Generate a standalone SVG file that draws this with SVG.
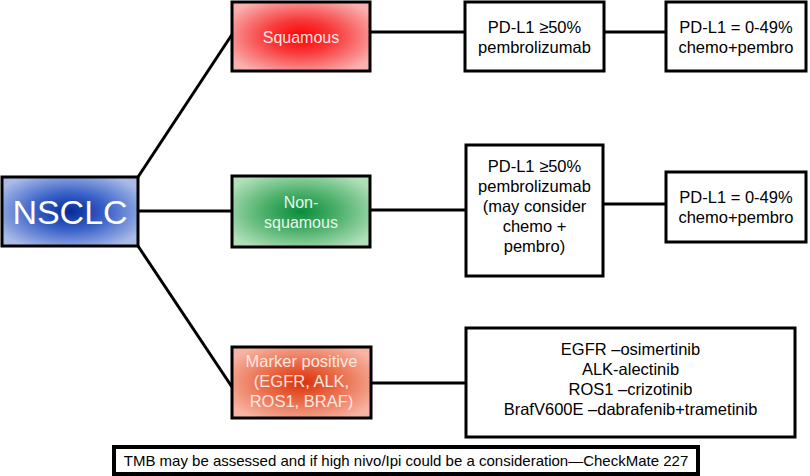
<svg xmlns="http://www.w3.org/2000/svg" width="810" height="476" viewBox="0 0 810 476">
<defs>
<radialGradient id="gBlue" cx="50%" cy="50%" r="60%">
<stop offset="0" stop-color="#062a96"/>
<stop offset="0.45" stop-color="#3a62c8"/>
<stop offset="1" stop-color="#aabbe8"/>
</radialGradient>
<radialGradient id="gRed" cx="50%" cy="50%" r="60%">
<stop offset="0" stop-color="#ff0000"/>
<stop offset="0.4" stop-color="#f83a3a"/>
<stop offset="1" stop-color="#f9b0b0"/>
</radialGradient>
<radialGradient id="gGreen" cx="50%" cy="50%" r="60%">
<stop offset="0" stop-color="#0a8c3c"/>
<stop offset="0.45" stop-color="#4cb06a"/>
<stop offset="1" stop-color="#b0dfb8"/>
</radialGradient>
<radialGradient id="gOrange" cx="50%" cy="50%" r="60%">
<stop offset="0" stop-color="#d83208"/>
<stop offset="0.45" stop-color="#ea6a48"/>
<stop offset="1" stop-color="#f7b4a2"/>
</radialGradient>
<style>
.box{stroke:#000;stroke-width:3}
.wbox{fill:#fff;stroke:#000;stroke-width:3}
.t{font-family:"Liberation Sans",Arial,sans-serif;font-size:16.5px;text-anchor:middle;fill:#000}
.w{fill:#fff}
.conn line{stroke:#000;stroke-width:3}
</style>
</defs>
<rect width="810" height="476" fill="#fff"/>
<g id="connectors" class="conn">
<line x1="138" y1="177" x2="233" y2="33"/>
<line x1="138" y1="211" x2="232" y2="211"/>
<line x1="138" y1="246" x2="232" y2="387"/>
<line x1="370" y1="32" x2="465" y2="32"/>
<line x1="604" y1="32" x2="666" y2="32"/>
<line x1="370" y1="210" x2="465" y2="210"/>
<line x1="603" y1="204" x2="666" y2="204"/>
<line x1="371" y1="383" x2="466" y2="383"/>
</g>
<g id="nsclc">
<rect class="box" x="2" y="177" width="136" height="69" fill="url(#gBlue)"/>
<text class="t w" x="70" y="224" style="font-size:34px">NSCLC</text>
</g>
<g id="squamous">
<rect class="box" x="232" y="2" width="138" height="69" fill="url(#gRed)"/>
<text class="t" x="301" y="43" fill="#fde6e6" style="fill:#fde6e6;font-size:16px">Squamous</text>
</g>
<g id="nonsquamous">
<rect class="box" x="232" y="176" width="138" height="71" fill="url(#gGreen)"/>
<text class="t" x="301" y="208" style="fill:#eaf6ec;font-size:16px">Non-</text>
<text class="t" x="301" y="228" style="fill:#eaf6ec;font-size:16px">squamous</text>
</g>
<g id="marker">
<rect class="box" x="232" y="347" width="139" height="71" fill="url(#gOrange)"/>
<text class="t" x="301.5" y="367" style="fill:#fde8e0">Marker positive</text>
<text class="t" x="301.5" y="387" style="fill:#fde8e0">(EGFR, ALK,</text>
<text class="t" x="301.5" y="407" style="fill:#fde8e0">ROS1, BRAF)</text>
</g>
<g id="sq-pdl1-high">
<rect class="wbox" x="465" y="2" width="139" height="69"/>
<text class="t" x="534.5" y="33">PD-L1 ≥50%</text>
<text class="t" x="534.5" y="53">pembrolizumab</text>
</g>
<g id="sq-pdl1-low">
<rect class="wbox" x="666" y="2" width="140" height="69"/>
<text class="t" x="736" y="33">PD-L1 = 0-49%</text>
<text class="t" x="736" y="53">chemo+pembro</text>
</g>
<g id="ns-pdl1-high">
<rect class="wbox" x="466" y="145" width="137" height="131"/>
<text class="t" x="534.5" y="172">PD-L1 ≥50%</text>
<text class="t" x="534.5" y="192">pembrolizumab</text>
<text class="t" x="534.5" y="212">(may consider</text>
<text class="t" x="534.5" y="232">chemo +</text>
<text class="t" x="534.5" y="252">pembro)</text>
</g>
<g id="ns-pdl1-low">
<rect class="wbox" x="666" y="172" width="140" height="70"/>
<text class="t" x="736" y="203">PD-L1 = 0-49%</text>
<text class="t" x="736" y="223">chemo+pembro</text>
</g>
<g id="targeted">
<rect class="wbox" x="466" y="328" width="329" height="109"/>
<text class="t" x="630.5" y="355">EGFR –osimertinib</text>
<text class="t" x="630.5" y="375">ALK-alectinib</text>
<text class="t" x="630.5" y="395">ROS1 –crizotinib</text>
<text class="t" x="630.5" y="415">BrafV600E –dabrafenib+trametinib</text>
</g>
<g id="tmb">
<rect x="114" y="447" width="584" height="27" fill="#fff" stroke="#000" stroke-width="4"/>
<text class="t" x="406" y="466" style="font-size:15px">TMB may be assessed and if high nivo/Ipi could be a consideration—CheckMate 227</text>
</g>
</svg>
